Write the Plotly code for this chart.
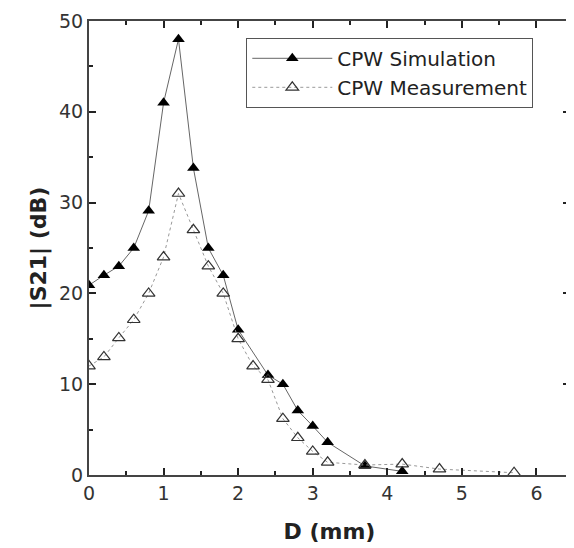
import plotly.graph_objects as go

# |S21| vs spacing D
sim_d = [0.0, 0.2, 0.4, 0.6, 0.8, 1.0, 1.2, 1.4, 1.6, 1.8, 2.0, 2.4, 2.6, 2.8, 3.0, 3.2, 3.7, 4.2]
sim_s21 = [20.9, 22.0, 23.0, 25.0, 29.1, 41.0, 48.0, 33.8, 25.0, 22.0, 16.0, 11.0, 10.0, 7.1, 5.4, 3.6, 1.0, 0.4]

meas_d = [0.0, 0.2, 0.4, 0.6, 0.8, 1.0, 1.2, 1.4, 1.6, 1.8, 2.0, 2.2, 2.4, 2.6, 2.8, 3.0, 3.2,
          3.7, 4.2, 4.7, 5.7]
meas_s21 = [12.0, 13.0, 15.1, 17.1, 20.0, 24.0, 31.0, 27.0, 23.0, 20.0, 15.0, 12.0, 10.5, 6.2,
            4.1, 2.6, 1.4, 1.1, 1.2, 0.65, 0.25]

FONT = "DejaVu Sans, Arial, sans-serif"
AXIS_COLOR = "#444444"

fig = go.Figure()
fig.add_trace(go.Scatter(
    x=sim_d, y=sim_s21, mode="lines+markers", name="CPW Simulation",
    line=dict(color="#666666", width=1),
    marker=dict(symbol="triangle-up", size=11, color="black"),
))
fig.add_trace(go.Scatter(
    x=meas_d, y=meas_s21, mode="lines+markers", name="CPW Measurement",
    line=dict(color="#999999", width=1, dash="dot"),
    marker=dict(symbol="triangle-up-open", size=11, color="#333333", line=dict(width=1.2)),
))

axis_common = dict(
    showline=True, linecolor=AXIS_COLOR, linewidth=2, mirror="ticks",
    ticks="inside", ticklen=7, tickwidth=2, tickcolor="#222222",
    showgrid=False, zeroline=False, ticklabeloverflow="allow",
    tickfont=dict(family=FONT, size=19, color="#333333"),
)

fig.update_xaxes(
    range=[0, 6.45], dtick=1, tick0=0,
    minor=dict(ticks="inside", ticklen=4, dtick=0.5, tick0=0, tickcolor="#222222", tickwidth=1.5),
    title=dict(text="<b>D (mm)</b>", font=dict(family=FONT, size=22, color="#222222"), standoff=21),
    **axis_common,
)
fig.update_yaxes(
    range=[0, 50], dtick=10, tick0=0,
    minor=dict(ticks="inside", ticklen=4, dtick=5, tick0=0, tickcolor="#222222", tickwidth=1.5),
    title=dict(text="<b>|S21| (dB)</b>", font=dict(family=FONT, size=22, color="#222222"), standoff=6),
    **axis_common,
)

# page body adds an 8px margin, so the figure is 8px smaller than the window
fig.update_layout(
    width=566, height=540,
    margin=dict(l=81, r=2, t=7, b=73),
    plot_bgcolor="white", paper_bgcolor="white",
    legend=dict(
        x=0.327, y=0.963, xanchor="left", yanchor="top",
        bordercolor="#555555", borderwidth=1, bgcolor="white",
        font=dict(family=FONT, size=20, color="#222222"),
        itemwidth=80, tracegroupgap=0,
    ),
)

fig.write_html("out.html")
